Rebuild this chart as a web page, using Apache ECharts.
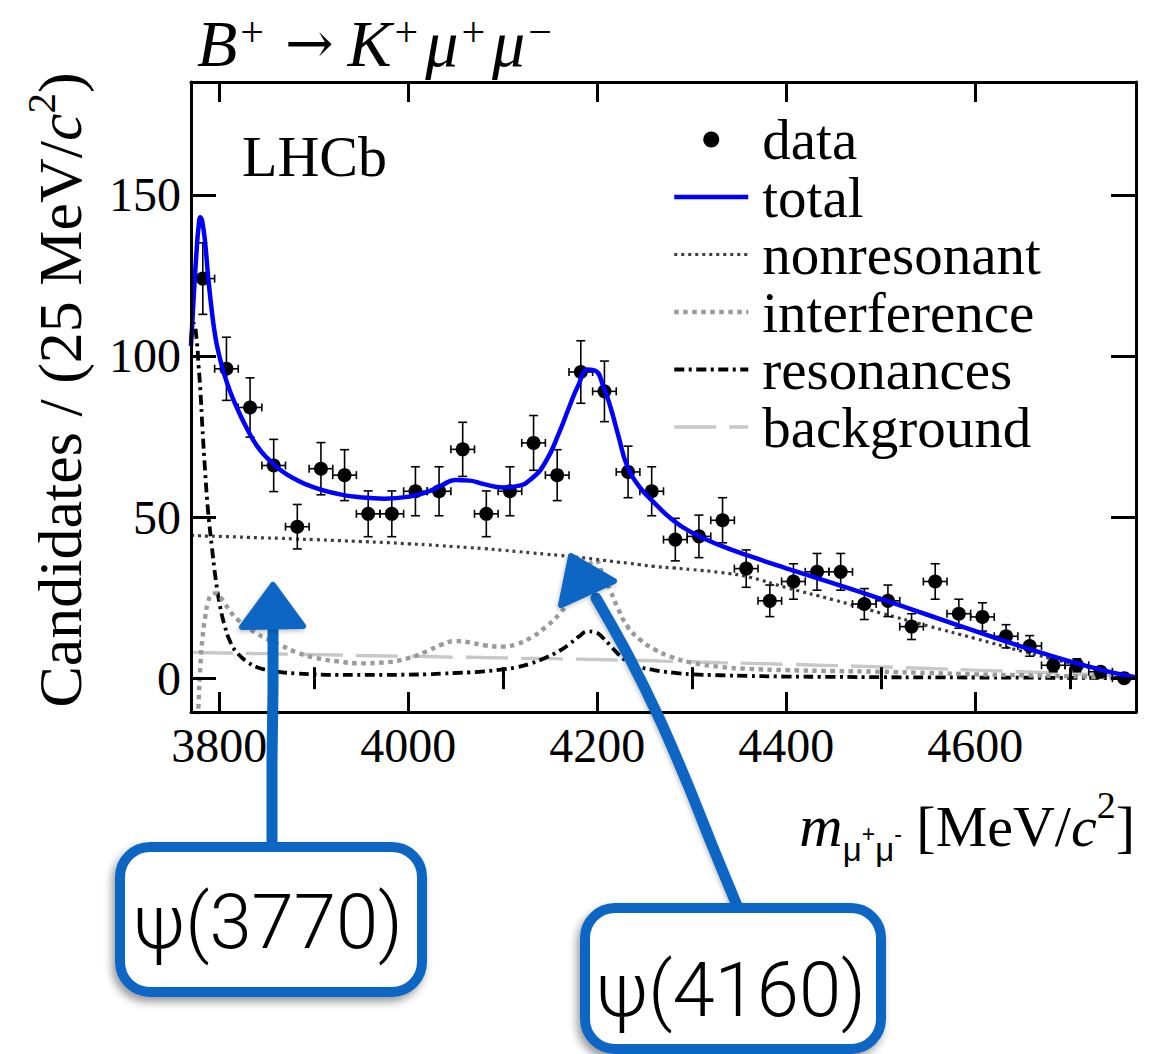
<!DOCTYPE html>
<html>
<head>
<meta charset="utf-8">
<title>B+ → K+μ+μ− : m(μ+μ−) spectrum</title>
<script src="https://cdn.jsdelivr.net/npm/echarts@6/dist/echarts.min.js"></script>
<style>
  html, body { margin: 0; padding: 0; background: #ffffff; font-family: "Liberation Serif", serif; }
  #chart { width: 1162px; height: 1054px; }
</style>
</head>
<body>
<div id="chart"></div>
<script>
// ---- Binned candidates (25 MeV/c^2 bins) ----
const binCentres = [
  3782.5, 3807.5, 3832.5, 3857.5, 3882.5, 3907.5, 3932.5, 3957.5, 3982.5, 4007.5,
  4032.5, 4057.5, 4082.5, 4107.5, 4132.5, 4157.5, 4182.5, 4207.5, 4232.5, 4257.5,
  4282.5, 4307.5, 4332.5, 4357.5, 4382.5, 4407.5, 4432.5, 4457.5, 4482.5, 4507.5,
  4532.5, 4557.5, 4582.5, 4607.5, 4632.5, 4657.5, 4682.5, 4707.5, 4732.5, 4757.5
];
const candidates = [
  124, 96, 84, 66, 47, 65, 63, 51, 51, 58,
  58, 71, 51, 58, 73, 63, 95, 89, 64, 58,
  43, 44, 49, 34, 24, 30, 33, 33, 23, 24,
  16, 30, 20, 19, 13, 10, 4, 4, 2, 0
];
const candidateErrors = [
  11.1, 9.8, 9.2, 8.1, 6.9, 8.1, 7.9, 7.1, 7.1, 7.6,
  7.6, 8.4, 7.1, 7.6, 8.5, 7.9, 9.7, 9.4, 8.0, 7.6,
  6.6, 6.6, 7.0, 5.8, 4.9, 5.5, 5.7, 5.7, 4.8, 4.9,
  4.0, 5.5, 4.5, 4.4, 3.6, 3.2, 2.0, 2.0, 1.4, 0
];
const binHalfWidth = 12.5;

// ---- Fit components sampled along m(mu+mu-) ----
const fitMass = [
  3770, 3773, 3776, 3778, 3780, 3782, 3785, 3788, 3792, 3796,
  3800, 3805, 3812, 3820, 3830, 3840, 3850, 3865, 3880, 3900,
  3925, 3950, 3975, 4000, 4020, 4035, 4050, 4065, 4080, 4100,
  4115, 4130, 4145, 4160, 4170, 4180, 4190, 4198, 4206, 4214,
  4222, 4232, 4245, 4260, 4280, 4300, 4330, 4360, 4400, 4450,
  4500, 4550, 4600, 4650, 4700, 4740, 4770
];
const fitTotal = [
  103, 119, 133, 140, 143, 141.5, 135, 125, 114, 105.5,
  100, 94.5, 88.5, 83, 77, 72, 68.5, 64.5, 61.8, 59.2,
  57.2, 56.1, 55.7, 56.3, 57.8, 59.8, 61.5, 61.3, 60.2, 59.2,
  59.6, 61.8, 67, 76.5, 84, 91, 95.8, 95.4, 90.8, 84,
  75.5, 65.5, 59.2, 54.5, 49, 45.2, 41.2, 38, 34.1, 29.4,
  24.6, 19.6, 14.6, 9.7, 5.2, 2.1, 0.2
];
const fitNonresonant = [
  44.3, 44.3, 44.2, 44.2, 44.2, 44.2, 44.1, 44.1, 44.1, 44.0,
  44.0, 43.9, 43.9, 43.8, 43.7, 43.6, 43.5, 43.4, 43.2, 43.0,
  42.7, 42.4, 42.1, 41.7, 41.4, 41.1, 40.8, 40.5, 40.2, 39.7,
  39.3, 38.9, 38.5, 38.1, 37.8, 37.5, 37.2, 36.9, 36.6, 36.3,
  36.0, 35.7, 35.2, 34.7, 34.2, 33.7, 32.8, 31.4, 28.1, 24.3,
  20.2, 16.2, 12.3, 8.3, 4.7, 2.0, 0.2
];
const fitInterference = [
  -54, -42, -22, -8, 4, 12, 19, 23.5, 26, 26.3,
  25.5, 23.5, 20.5, 18, 15.7, 13.8, 12.2, 10.2, 8.2, 6.4,
  5.2, 4.6, 4.9, 6.2, 8.4, 10.4, 11.5, 11.1, 10.2, 9.8,
  10.6, 12.6, 15.8, 20, 24, 29, 34.5, 36.5, 32, 27,
  21.5, 16, 12, 9, 6.4, 4.8, 3.5, 2.9, 2.5, 2.2,
  2.0, 1.6, 1.2, 0.9, 0.6, 0.3, 0
];
const fitResonances = [
  105, 110, 105, 97, 89, 78, 64, 52, 41, 31,
  23.5, 17, 11, 7.5, 5, 3.4, 2.6, 1.9, 1.5, 1.2,
  1.0, 1.0, 1.0, 1.1, 1.2, 1.4, 1.6, 1.8, 2.1, 2.7,
  3.4, 4.6, 6.3, 8.5, 10.5, 12.8, 14.5, 14.2, 12.5, 10,
  7.5, 5.2, 3.5, 2.5, 1.7, 1.2, 0.9, 0.7, 0.5, 0.4,
  0.3, 0.25, 0.2, 0.15, 0.1, 0.05, 0
];
const fitBackground = [
  8.0, 8.0, 8.0, 8.0, 7.9, 7.9, 7.9, 7.9, 7.9, 7.9,
  7.8, 7.8, 7.8, 7.7, 7.7, 7.6, 7.6, 7.5, 7.4, 7.3,
  7.2, 7.0, 6.9, 6.8, 6.7, 6.6, 6.5, 6.5, 6.4, 6.3,
  6.2, 6.1, 6.1, 6.0, 5.9, 5.9, 5.8, 5.8, 5.7, 5.7,
  5.6, 5.6, 5.5, 5.4, 5.2, 5.1, 4.8, 4.6, 4.3, 3.9,
  3.5, 3.0, 2.5, 2.0, 1.4, 0.9, 0.6
];

// ---- Axis ranges and ticks ----
const MASS_MIN = 3770, MASS_MAX = 4770;
const COUNT_MIN = -10.5, COUNT_MAX = 185;
const massTicks = [3800, 4000, 4200, 4400, 4600];
const massMinorTicks = [3900, 4100, 4300, 4500, 4700];
const countTicks = [0, 50, 100, 150];

// ---- Drawing ----
const SERIF = "Liberation Serif";
const SANS = "Liberation Sans";
const ARROW_FONT = "DejaVu Serif";
const NOTE_FONT = "Roboto";
const NOTE_BLUE = '#0b66c3';

const curve = ys => fitMass.map((m, i) => [m, ys[i]]);

function renderErrorBar(params, api) {
  const m = api.value(0), n = api.value(1), e = api.value(2);
  const left = api.coord([m - binHalfWidth, n]);
  const right = api.coord([m + binHalfWidth, n]);
  const style = { stroke: '#000', lineWidth: 1.6, fill: null };
  const seg = (x1, y1, x2, y2) => ({ type: 'line', shape: { x1, y1, x2, y2 }, style });
  const capH = 4;   // half-height of the serifs on the horizontal bar
  const capV = 4.5; // half-width of the serifs on the vertical bar
  const children = [
    seg(left[0], left[1], right[0], right[1]),
    seg(left[0], left[1] - capH, left[0], left[1] + capH),
    seg(right[0], right[1] - capH, right[0], right[1] + capH)
  ];
  if (e > 0) {
    const top = api.coord([m, n + e]);
    const bottom = api.coord([m, n - e]);
    children.push(
      seg(top[0], top[1], bottom[0], bottom[1]),
      seg(top[0] - capV, top[1], top[0] + capV, top[1]),
      seg(bottom[0] - capV, bottom[1], bottom[0] + capV, bottom[1])
    );
  }
  return { type: 'group', children };
}

const frameLine = { show: true, onZero: false, lineStyle: { color: '#000', width: 3 } };
const noLine = { show: false };
const tickStyle = { color: '#000', width: 3 };
const tickText = { fontFamily: SERIF, fontSize: 48, color: '#000' };
const plainNumber = v => String(v);

function massAxis(position, ticks, len, withLine, withLabels) {
  return {
    type: 'value', min: MASS_MIN, max: MASS_MAX, position, z: 10,
    axisLine: withLine ? frameLine : noLine,
    axisTick: { show: true, inside: true, length: len, lineStyle: tickStyle, customValues: ticks },
    axisLabel: withLabels
      ? Object.assign({ show: true, customValues: ticks, formatter: plainNumber, margin: 9 }, tickText)
      : { show: false },
    splitLine: { show: false }
  };
}
function countAxis(position, withLabels) {
  return {
    type: 'value', min: COUNT_MIN, max: COUNT_MAX, position, z: 10,
    axisLine: frameLine,
    axisTick: { show: true, inside: true, length: 25, lineStyle: tickStyle, customValues: countTicks },
    axisLabel: withLabels
      ? Object.assign({ show: true, customValues: countTicks, formatter: plainNumber, margin: 10 }, tickText)
      : { show: false },
    splitLine: { show: false }
  };
}

const lineSeries = (name, ys, st, z) => ({
  name, type: 'line', data: curve(ys), xAxisIndex: 0, yAxisIndex: 0,
  symbol: 'none', showSymbol: false, smooth: 0.5,
  clip: true, z, silent: true,
  lineStyle: { color: st.color, width: st.width, type: st.type, cap: 'butt', opacity: 1 }
});

const STYLES = {
  total: { color: '#0000ff', width: 4.5, type: 'solid' },
  nonresonant: { color: '#3d3d3d', width: 3.2, type: [3, 4] },
  interference: { color: '#9a9a9a', width: 4.4, type: [4.5, 4.5] },
  resonances: { color: '#000000', width: 3.8, type: [10, 4.5, 3, 4.5] },
  background: { color: '#c8c8c8', width: 3.4, type: [42, 13] }
};

const chart = echarts.init(document.getElementById('chart'), null, { renderer: 'svg' });

chart.setOption({
  backgroundColor: '#ffffff',
  animation: false,
  textStyle: { fontFamily: SERIF, color: '#000' },
  grid: { left: 191, top: 82, width: 945, height: 630, containLabel: false, show: false },
  xAxis: [
    massAxis('bottom', massTicks, 20, true, true),
    massAxis('bottom', massMinorTicks, 11, false, false),
    massAxis('top', massTicks, 20, true, false),
    massAxis('top', massMinorTicks, 11, false, false)
  ],
  yAxis: [countAxis('left', true), countAxis('right', false)],
  legend: {
    orient: 'vertical', left: 672, top: 111, padding: 0, itemGap: 0.5,
    itemWidth: 74, itemHeight: 16, selectedMode: false,
    textStyle: { fontFamily: SERIF, fontSize: 57, color: '#000', lineHeight: 54, padding: [0, 0, 0, 9] },
    data: [
      { name: 'data', icon: 'circle', itemStyle: { color: '#000', opacity: 1 } },
      ...['total', 'nonresonant', 'interference', 'resonances', 'background'].map(n => ({
        name: n,
        itemStyle: { opacity: 0, color: 'rgba(0,0,0,0)', borderWidth: 0 },
        lineStyle: { color: STYLES[n].color, width: STYLES[n].width, type: STYLES[n].type, opacity: 1 }
      }))
    ]
  },
  series: [
    lineSeries('background', fitBackground, STYLES.background, 3),
    lineSeries('resonances', fitResonances, STYLES.resonances, 3),
    lineSeries('interference', fitInterference, STYLES.interference, 3),
    lineSeries('nonresonant', fitNonresonant, STYLES.nonresonant, 3),
    {
      name: 'data-errors', type: 'custom', xAxisIndex: 0, yAxisIndex: 0, clip: true, z: 4, silent: true,
      renderItem: renderErrorBar,
      encode: { x: 0, y: 1 },
      data: binCentres.map((m, i) => [m, candidates[i], candidateErrors[i]])
    },
    {
      name: 'data', type: 'scatter', xAxisIndex: 0, yAxisIndex: 0, z: 5, silent: true,
      symbol: 'circle', symbolSize: 14, itemStyle: { color: '#000', opacity: 1 },
      data: binCentres.map((m, i) => [m, candidates[i]])
    },
    lineSeries('total', fitTotal, STYLES.total, 6)
  ],
  graphic: [
    // decay title
    {
      type: 'text', x: 197, y: 43, z: 20, silent: true,
      style: {
        text: '{i|B}{s|+}{a|→}{i|K}{s|+}{i|μ}{s|+}{i|μ}{s|−}',
        align: 'left', verticalAlign: 'middle',
        rich: {
          i: { fontFamily: SERIF, fontStyle: 'italic', fontSize: 66, lineHeight: 64, fill: '#000' },
          a: { fontFamily: ARROW_FONT, fontSize: 58, lineHeight: 64, fill: '#000', padding: [0, 14, 0, 14] },
          s: { fontFamily: SERIF, fontSize: 42, lineHeight: 34, verticalAlign: 'top', fill: '#000',
               padding: [0, 7, 0, 3] }
        }
      }
    },
    // experiment tag
    {
      type: 'text', x: 242, y: 156, z: 20, silent: true,
      style: { text: 'LHCb', fontFamily: SERIF, fontSize: 58, fill: '#000', align: 'left', verticalAlign: 'middle' }
    },
    // y-axis title
    {
      type: 'text', x: 60, y: 390, rotation: Math.PI / 2, z: 20, silent: true,
      style: {
        text: '{n|Candidates / (25 MeV/}{i|c}{s|2}{n|)}',
        align: 'center', verticalAlign: 'middle',
        rich: {
          n: { fontFamily: SERIF, fontSize: 62, lineHeight: 80, fill: '#000' },
          i: { fontFamily: SERIF, fontStyle: 'italic', fontSize: 62, lineHeight: 80, fill: '#000' },
          s: { fontFamily: SERIF, fontSize: 41, lineHeight: 41, verticalAlign: 'top', fill: '#000' }
        }
      }
    },
    // x-axis title
    {
      type: 'text', x: 1135, y: 826, z: 20, silent: true,
      style: {
        text: '{m|m}{b|μ}{p|+}{b|μ}{p|-}{n| [MeV/}{i|c}{s|2}{n|]}',
        align: 'right', verticalAlign: 'middle',
        rich: {
          m: { fontFamily: SERIF, fontStyle: 'italic', fontSize: 60, lineHeight: 80, fill: '#000' },
          n: { fontFamily: SERIF, fontSize: 58, lineHeight: 80, fill: '#000' },
          i: { fontFamily: SERIF, fontStyle: 'italic', fontSize: 58, lineHeight: 80, fill: '#000' },
          s: { fontFamily: SERIF, fontSize: 38, lineHeight: 38, verticalAlign: 'top', fill: '#000' },
          b: { fontFamily: SANS, fontSize: 33, lineHeight: 33, verticalAlign: 'bottom', fill: '#000' },
          p: { fontFamily: SANS, fontSize: 23, lineHeight: 23, padding: [16, 0, 0, 0], fill: '#000' }
        }
      }
    },
    // psi(3770) call-out
    {
      type: 'polyline', z: 30, silent: true,
      shape: { points: [[272, 848], [272, 760], [273, 690], [273, 615]] },
      style: { stroke: NOTE_BLUE, lineWidth: 11, lineCap: 'round', fill: null }
    },
    {
      type: 'polygon', z: 31, silent: true,
      shape: { points: [[273, 585], [303, 626], [242, 627]] },
      style: { fill: NOTE_BLUE, stroke: NOTE_BLUE, lineWidth: 6, lineJoin: 'round',
               shadowBlur: 4, shadowColor: 'rgba(0,0,0,0.25)', shadowOffsetX: -1, shadowOffsetY: 2 }
    },
    {
      type: 'rect', z: 32, silent: true,
      shape: { x: 120, y: 847, width: 302, height: 145, r: 30 },
      style: { fill: '#ffffff', stroke: NOTE_BLUE, lineWidth: 10,
               shadowBlur: 8, shadowColor: 'rgba(0,0,0,0.4)', shadowOffsetX: -3, shadowOffsetY: 5 }
    },
    {
      type: 'text', x: 268, y: 922, z: 33, silent: true,
      style: { text: 'ψ(3770)', fontFamily: NOTE_FONT, fontWeight: 300, fontSize: 76, fill: '#000',
               align: 'center', verticalAlign: 'middle' }
    },
    // psi(4160) call-out
    {
      type: 'polyline', z: 30, silent: true,
      shape: { points: [[738, 908], [712, 845], [688, 785], [660, 720], [628, 655], [596, 598]], smooth: 0.3 },
      style: { stroke: NOTE_BLUE, lineWidth: 11, lineCap: 'round', lineJoin: 'round', fill: null,
               shadowBlur: 4, shadowColor: 'rgba(0,0,0,0.25)', shadowOffsetX: -1, shadowOffsetY: 2 }
    },
    {
      type: 'polygon', z: 31, silent: true,
      shape: { points: [[571, 556], [614, 581], [561, 605]] },
      style: { fill: NOTE_BLUE, stroke: NOTE_BLUE, lineWidth: 6, lineJoin: 'round',
               shadowBlur: 4, shadowColor: 'rgba(0,0,0,0.25)', shadowOffsetX: -1, shadowOffsetY: 2 }
    },
    {
      type: 'rect', z: 32, silent: true,
      shape: { x: 585, y: 908, width: 296, height: 141, r: 30 },
      style: { fill: '#ffffff', stroke: NOTE_BLUE, lineWidth: 10,
               shadowBlur: 8, shadowColor: 'rgba(0,0,0,0.4)', shadowOffsetX: -3, shadowOffsetY: 5 }
    },
    {
      type: 'text', x: 731, y: 990, z: 33, silent: true,
      style: { text: 'ψ(4160)', fontFamily: NOTE_FONT, fontWeight: 300, fontSize: 76, fill: '#000',
               align: 'center', verticalAlign: 'middle' }
    }
  ]
});
</script>
</body>
</html>
